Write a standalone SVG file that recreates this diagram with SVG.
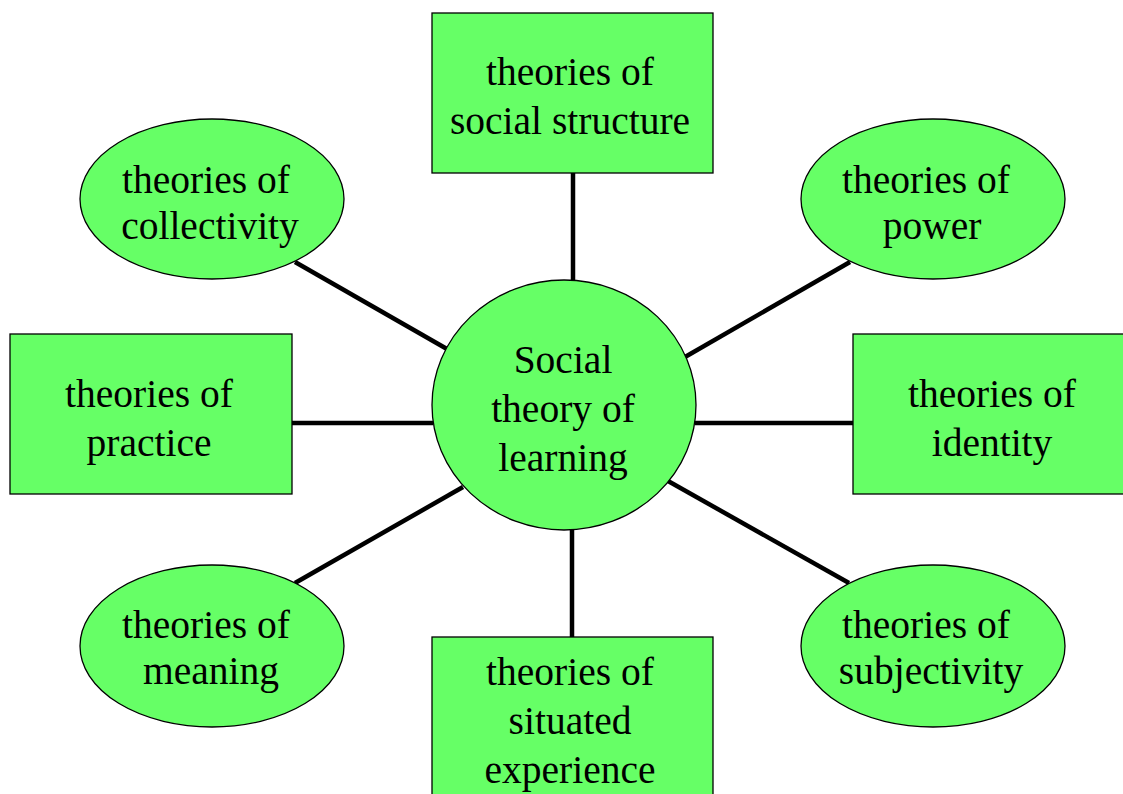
<svg xmlns="http://www.w3.org/2000/svg" width="1123" height="794" viewBox="0 0 1123 794">
<style>
.n{fill:#66FF66;stroke:#000;stroke-width:1.3}
.t{font-family:"Liberation Serif","Times New Roman",serif;font-size:39.5px;fill:#000;text-anchor:middle}
.c line{stroke:#000;stroke-width:4.5}
</style>
<rect width="1123" height="794" fill="#fff"/>
<g class="c" id="connectors">
<line x1="573" y1="173" x2="573" y2="281"/>
<line x1="572" y1="530" x2="572" y2="637"/>
<line x1="292" y1="423" x2="433" y2="423"/>
<line x1="695" y1="423" x2="853" y2="423"/>
<line x1="295" y1="262" x2="447" y2="349"/>
<line x1="850" y1="262" x2="685" y2="357"/>
<line x1="463" y1="487" x2="295" y2="583"/>
<line x1="668" y1="481" x2="849" y2="583"/>
</g>
<g id="center">
<ellipse class="n" cx="564" cy="405" rx="132" ry="125"/>
<text class="t" x="563" y="373">Social</text>
<text class="t" x="563" y="422">theory of</text>
<text class="t" x="563" y="471">learning</text>
</g>
<g id="social-structure">
<rect class="n" x="432" y="13" width="281" height="160"/>
<text class="t" x="570" y="85">theories of</text>
<text class="t" x="570" y="134">social structure</text>
</g>
<g id="situated-experience">
<rect class="n" x="432" y="637" width="281" height="170"/>
<text class="t" x="570" y="685">theories of</text>
<text class="t" x="570" y="734">situated</text>
<text class="t" x="570" y="783">experience</text>
</g>
<g id="practice">
<rect class="n" x="10" y="334" width="282" height="160"/>
<text class="t" x="149" y="407">theories of</text>
<text class="t" x="149" y="456">practice</text>
</g>
<g id="identity">
<rect class="n" x="853" y="334" width="280" height="160"/>
<text class="t" x="992" y="407">theories of</text>
<text class="t" x="992" y="456">identity</text>
</g>
<g id="collectivity">
<ellipse class="n" cx="212" cy="199" rx="132" ry="80"/>
<text class="t" x="206" y="193">theories of</text>
<text class="t" x="210" y="239">collectivity</text>
</g>
<g id="power">
<ellipse class="n" cx="933" cy="199" rx="132" ry="80"/>
<text class="t" x="926" y="193">theories of</text>
<text class="t" x="932" y="239">power</text>
</g>
<g id="meaning">
<ellipse class="n" cx="212" cy="646" rx="132" ry="81"/>
<text class="t" x="206" y="638">theories of</text>
<text class="t" x="211" y="684">meaning</text>
</g>
<g id="subjectivity">
<ellipse class="n" cx="933" cy="646" rx="132" ry="81"/>
<text class="t" x="926" y="638">theories of</text>
<text class="t" x="931" y="684">subjectivity</text>
</g>
</svg>
